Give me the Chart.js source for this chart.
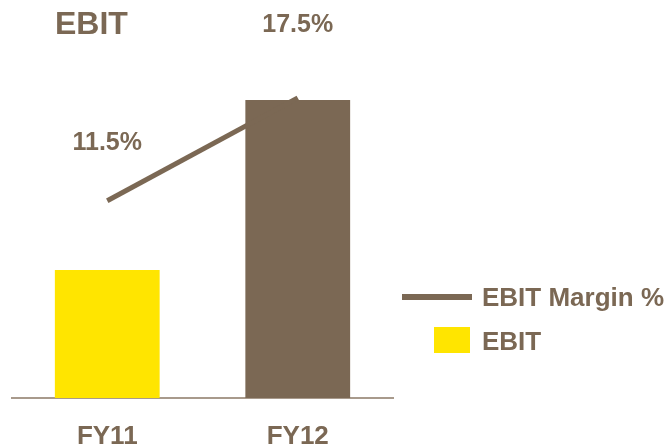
<!DOCTYPE html>
<html>
<head>
<meta charset="utf-8">
<script src="https://cdn.jsdelivr.net/npm/chart.js@4.4.0/dist/chart.umd.min.js"></script>
<style>
  html, body { margin: 0; padding: 0; background: #ffffff; overflow: hidden; }
  /* canvas runs a little past the bottom of the window, so the category labels sit low */
  #wrap { width: 669px; height: 475px; position: relative; }
</style>
</head>
<body>
<div id="wrap"><canvas id="ebit-chart"></canvas></div>
<script>
const categories = ['FY11', 'FY12'];
const ebitValues = [37.3, 86.9];
const marginValues = [11.5, 17.5];
const barColors = ['#FFE500', '#7B6854'];

const BROWN = '#7B6854';
const FONT = '"Liberation Sans", Arial, sans-serif';

// title, value labels and the legend are painted straight onto the canvas
const overlayPlugin = {
  id: 'overlay',
  afterDatasetsDraw(chart, args, opts) {
    const { ctx } = chart;
    const [lineSet, barSet] = chart.data.datasets;
    ctx.save();
    ctx.fillStyle = BROWN;
    ctx.textBaseline = 'middle';

    ctx.font = `bold 32px ${FONT}`;
    ctx.textAlign = 'left';
    ctx.fillText('EBIT', 55, 25);

    // margin % labels above the line points
    const meta = chart.getDatasetMeta(0);
    ctx.font = `bold 25px ${FONT}`;
    ctx.textAlign = 'center';
    meta.data.forEach((pt, i) => {
      ctx.fillText(`${marginValues[i].toFixed(1)}%`, pt.x, pt.y - opts.offsets[i]);
    });

    // legend
    ctx.font = `bold 26px ${FONT}`;
    ctx.textAlign = 'left';
    ctx.strokeStyle = BROWN;
    ctx.lineWidth = 6;
    ctx.beginPath();
    ctx.moveTo(402, 297);
    ctx.lineTo(472, 297);
    ctx.stroke();
    ctx.fillText(lineSet.label, 482, 299);

    ctx.fillStyle = barColors[0];
    ctx.fillRect(434, 327, 36, 26);
    ctx.fillStyle = BROWN;
    ctx.fillText(barSet.label, 482, 343);
    ctx.restore();
  },
};

new Chart(document.getElementById('ebit-chart').getContext('2d'), {
  type: 'bar',
  data: {
    labels: categories,
    datasets: [
      {
        type: 'line',
        label: 'EBIT Margin %',
        data: marginValues,
        yAxisID: 'y2',
        borderColor: BROWN,
        borderWidth: 5,
        pointRadius: 0,
        tension: 0,
        order: 0,
      },
      {
        label: 'EBIT',
        data: ebitValues,
        yAxisID: 'y',
        backgroundColor: barColors,
        barPercentage: 0.55,
        categoryPercentage: 1,
        order: 1,
      },
    ],
  },
  options: {
    responsive: true,
    maintainAspectRatio: false,
    animation: false,
    layout: { padding: { top: 55, left: 12, right: 276, bottom: 0 } },
    plugins: {
      legend: { display: false },
      tooltip: { enabled: false },
      overlay: { offsets: [58, 73] },
    },
    scales: {
      x: {
        grid: { display: false, drawTicks: false },
        border: { display: true, color: '#A89A8C', width: 2 },
        ticks: {
          color: BROWN,
          padding: 25.5,
          font: { family: FONT, size: 26, weight: 'bold', lineHeight: 1 },
        },
      },
      y: { display: false, min: 0, max: 100 },
      y2: { display: false, min: 0, max: 20 },
    },
  },
  plugins: [overlayPlugin],
});
</script>
</body>
</html>
